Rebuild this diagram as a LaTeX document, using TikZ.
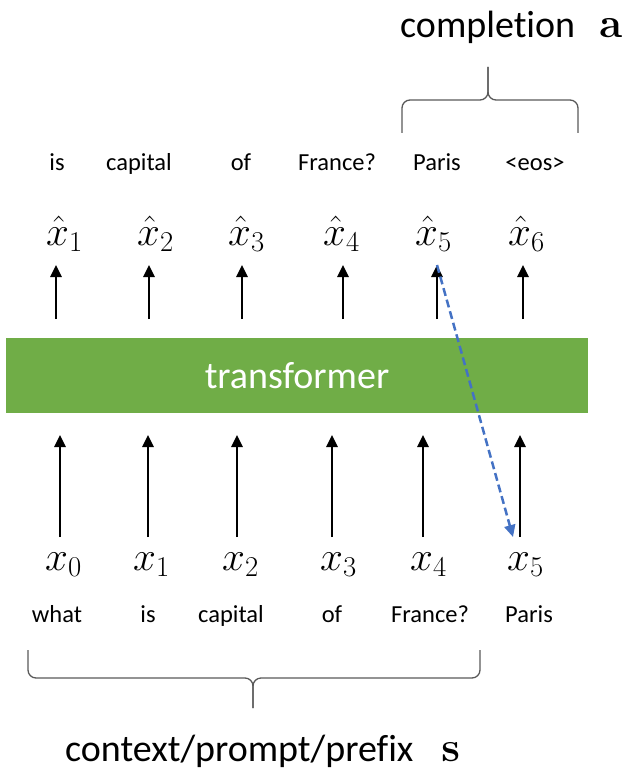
\RequirePackage{fix-cm}
\documentclass[tikz,border=0pt]{standalone}
\usepackage[no-math]{fontspec}
\setmainfont{Carlito}[Ligatures=NoCommon]
\usetikzlibrary{arrows.meta}

\definecolor{tfgreen}{HTML}{70AD47}
\definecolor{fbblue}{HTML}{4472C4}
\definecolor{bracegray}{HTML}{595959}

\begin{document}
\begin{tikzpicture}[
    x=1pt, y=-1pt,
    every node/.style={inner sep=0pt},
    word/.style={font=\fontsize{24.5}{29}\selectfont, anchor=base},
    tok/.style={font=\fontsize{41}{49}\selectfont, anchor=base west},
    title/.style={font=\fontsize{38}{45}\selectfont, anchor=base west},
    up/.style={line width=2.6pt, -{Triangle[length=12pt,width=11pt]}},
    brace/.style={line width=1.3pt, draw=bracegray, rounded corners=8pt},
    feedback/.style={line width=2.5pt, draw=fbblue, dash pattern=on 8pt off 4pt,
      -{Triangle[length=12pt,width=11pt]}},
  ]
  \useasboundingbox (0,0) rectangle (633,770);

  % the model
  \node[fill=tfgreen, minimum width=582pt, minimum height=75pt, text=white,
    font=\fontsize{38}{45}\selectfont] (bar) at (297,375.5) {transformer};

  % outputs
  \foreach \i/\xw/\word/\xt/\xa in {
    1/57/is/46/56, 2/139/capital/137/149, 3/241/of/228/242,
    4/337/France?/323/343, 5/437/Paris/415/437, 6/535/{<eos>}/508/523%
  }{
    \node[word] (out\i) at (\xw,171) {\word};
    \node[tok] (xh\i) at (\xt,245) {$\hat{x}_\i$};
    \coordinate (ot\i) at (\xa,319);
    \coordinate (oh\i) at (\xa,265);
    \draw[up] (ot\i) -- (oh\i);
  }

  % inputs
  \foreach \i/\xw/\word/\xt/\xa in {
    0/57/what/45/60, 1/148/is/133/148, 2/231/capital/222/237,
    3/332/of/320/332, 4/430/France?/410/423, 5/529/Paris/507/520%
  }{
    \node[word] (in\i) at (\xw,622) {\word};
    \node[tok] (x\i) at (\xt,570) {$x_\i$};
    \coordinate (it\i) at (\xa,537);
    \coordinate (ih\i) at (\xa,435);
    \draw[up] (it\i) -- (ih\i);
  }

  % prediction fed back as next input
  \draw[feedback] (oh5) -- ([xshift=-7pt]it5);

  % braces
  \draw[brace] (402,133) -- (402,100) -- (488,100) -- (488,67);
  \draw[brace] (578,133) -- (578,100) -- (488,100) -- (488,67);
  \draw[brace] (28,650) -- (28,678) -- (253,678) -- (253,708);
  \draw[brace] (480,650) -- (480,678) -- (253,678) -- (253,708);

  \node[title] (completion) at (400,38)
    {completion\hspace{24pt}{\fontsize{42}{50}\selectfont$\mathbf{a}$}};
  \node[title] (context) at (65,761)
    {context/prompt/prefix\hspace{28pt}{\fontsize{42}{50}\selectfont$\mathbf{s}$}};
\end{tikzpicture}
\end{document}
